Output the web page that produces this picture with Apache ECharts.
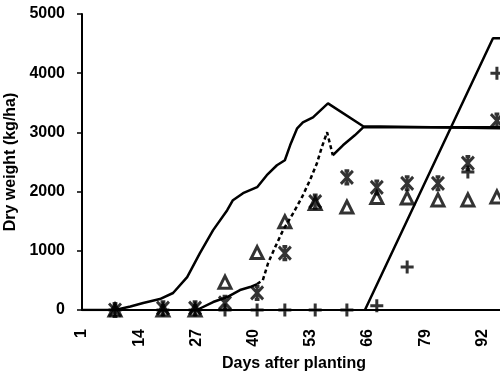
<!DOCTYPE html>
<html><head><meta charset="utf-8">
<script src="https://cdn.jsdelivr.net/npm/echarts@6/dist/echarts.min.js"></script>
<style>html,body{margin:0;padding:0;background:#fff}#c{width:500px;height:378px}</style>
</head><body><div id="c"></div>
<script>
// Tick labels
var xTickLabels = [1, 14, 27, 40, 53, 66, 79, 92];
var yTickLabels = [0, 1000, 2000, 3000, 4000, 5000];

// Curve A (solid, upper)
var curveADays = [1, 8.5, 12, 14.9, 18.7, 21.7, 24.9, 27.8, 30.8, 34, 35.3, 37.6, 39.2, 40.8, 43, 45.3, 47.1, 48.3, 49.9, 51.2, 53.5, 56.9, 64.9, 98];
var curveAValues = [0, 0, 60, 118, 185, 287, 556, 961, 1349, 1686, 1855, 1973, 2024, 2074, 2277, 2445, 2530, 2782, 3069, 3170, 3255, 3491, 3103, 3069];

// Curve B: solid start, dashed middle, solid end
var curveB1Days = [27.1, 30.8, 34, 36.9, 39.2, 40.8];
var curveB1Values = [0, 135, 219, 337, 388, 438];
var curveB2Days = [40.8, 42.1, 43.3, 44.9, 46.7, 49, 51, 52.8, 54.4, 55.5, 56.7, 58];
var curveB2Values = [438, 506, 793, 1062, 1349, 1636, 1906, 2192, 2479, 2749, 3002, 2614];
var curveB3Days = [58, 60.3, 63, 64.9, 98];
var curveB3Values = [2614, 2782, 2951, 3086, 3086];

// Curve C (steep solid)
var curveCDays = [65.3, 94.4, 98];
var curveCValues = [0, 4590, 4590];

// Observed points
var sampleDays = [8.5, 19.4, 26.7, 33.5, 40.8, 47.1, 54, 61.2, 68, 74.9, 81.9, 88.7, 95.3];
var triangleValues = [0, 0, 0, 470, 970, 1490, 1800, 1740, 1900, 1890, 1860, 1860, 1910];
var asteriskValues = [0, 30, 30, 120, 290, 960, 1830, 2240, 2070, 2140, 2140, 2480, 3200];
var plusValues = [0, 0, 0, 0, 0, 0, 0, 0, 70, 725, null, 2330, 4000];

function pairs(xs, ys) {
  var out = [];
  for (var i = 0; i < xs.length; i++) { if (ys[i] !== null) out.push([xs[i], ys[i]]); }
  return out;
}

var asteriskPath = 'path://M0,0L10,11M10,0L0,11M5,0L5,11M3,0L7,0M3,11L7,11';
var plusPath = 'path://M5,0L5,10M0,5L10,5';

var font = 'Liberation Sans, Arial, sans-serif';
var chart = echarts.init(document.getElementById('c'), null, {renderer: 'canvas'});

function lineSeries(xs, ys, dashed) {
  return {
    type: 'line', data: pairs(xs, ys), showSymbol: false, symbol: 'none', silent: true,
    lineStyle: {color: '#000', width: 2.5, type: dashed ? [4, 3] : 'solid'},
    z: 2, animation: false
  };
}

chart.setOption({
  animation: false,
  grid: {left: 82, top: 14, right: 0, height: 296, containLabel: false, outerBoundsMode: 'none'},
  xAxis: {
    type: 'value', min: 1, max: 96, interval: 13,
    name: 'Days after planting', nameLocation: 'middle', nameGap: 46,
    nameTextStyle: {fontFamily: font, fontWeight: 'bold', fontSize: 16, color: '#000', padding: [0, 0, 0, 6]},
    axisLine: {show: true, onZero: false, lineStyle: {color: '#000', width: 2}},
    axisTick: {show: false},
    splitLine: {show: false},
    axisLabel: {
      rotate: 90, margin: 19, fontFamily: font, fontWeight: 'bold', fontSize: 16, color: '#000',
      showMaxLabel: false,
      formatter: function (v) { return xTickLabels.indexOf(Math.round(v)) >= 0 && Math.abs(v - Math.round(v)) < 1e-6 ? String(Math.round(v)) : ''; }
    }
  },
  yAxis: {
    type: 'value', min: 0, max: 5000, interval: 1000,
    name: 'Dry weight (kg/ha)', nameLocation: 'middle', nameGap: 56,
    nameTextStyle: {fontFamily: font, fontWeight: 'bold', fontSize: 16, color: '#000'},
    axisLine: {show: true, lineStyle: {color: '#000', width: 2}},
    axisTick: {show: true, length: 5, lineStyle: {color: '#000', width: 1.5}},
    splitLine: {show: false},
    axisLabel: {
      margin: 17, fontFamily: font, fontWeight: 'bold', fontSize: 16, color: '#000',
      formatter: function (v) { return yTickLabels.indexOf(v) >= 0 ? String(v) : ''; }
    }
  },
  series: [
    lineSeries(curveADays, curveAValues, false),
    lineSeries(curveB1Days, curveB1Values, false),
    lineSeries(curveB2Days, curveB2Values, true),
    lineSeries(curveB3Days, curveB3Values, false),
    lineSeries(curveCDays, curveCValues, false),
    {
      type: 'scatter', data: pairs(sampleDays, triangleValues), symbol: 'triangle', symbolSize: [12, 12],
      itemStyle: {color: 'rgba(0,0,0,0)', borderColor: '#000', borderWidth: 3}, z: 3, silent: true
    },
    {
      type: 'scatter', data: pairs(sampleDays, asteriskValues), symbol: asteriskPath, symbolSize: [12, 13],
      itemStyle: {color: 'rgba(0,0,0,0)', borderColor: '#000', borderWidth: 3}, z: 4, silent: true
    },
    {
      type: 'scatter', data: pairs(sampleDays, plusValues), symbol: plusPath, symbolSize: [13, 13],
      itemStyle: {color: 'rgba(0,0,0,0)', borderColor: '#000', borderWidth: 3}, z: 4, silent: true
    }
  ]
});
</script></body></html>
